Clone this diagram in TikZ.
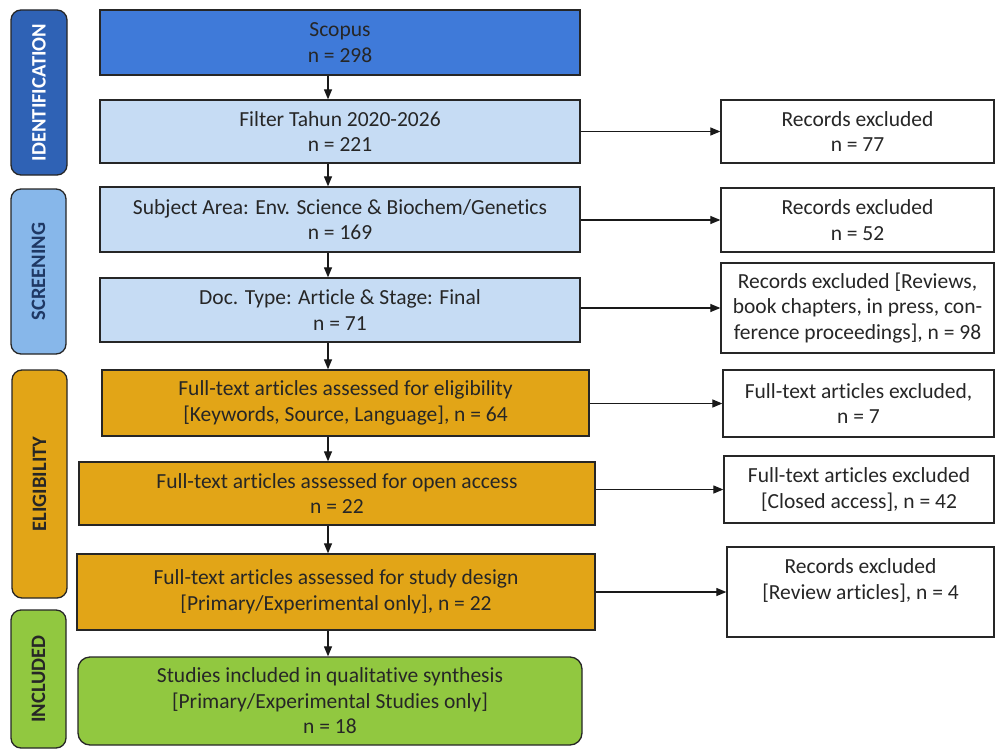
\documentclass[tikz,border=0pt]{standalone}
\usepackage{fontspec}
\setmainfont{Carlito}[Ligatures={NoCommon}]
\usetikzlibrary{arrows.meta}
\definecolor{idblue}{HTML}{2F62B5}
\definecolor{scopusblue}{HTML}{3F7AD9}
\definecolor{lightblue}{HTML}{C6DCF4}
\definecolor{scrblue}{HTML}{87B7EA}
\definecolor{navy}{HTML}{1F3864}
\definecolor{orangebox}{HTML}{E2A517}
\definecolor{greenbox}{HTML}{91C840}
\definecolor{txt}{HTML}{262626}
\tikzset{
  box/.style={draw=black!85, line width=1.3pt, align=center, inner sep=0pt,
    text=txt, font=\fontsize{21.5}{25.5}\selectfont},
  exbox/.style={box, fill=white},
  stage/.style={draw=black!85, line width=1.3pt, rounded corners=10pt, inner sep=0pt,
    font=\bfseries\fontsize{20.5}{22}\selectfont},
  arr/.style={line width=1.2pt, draw=black!90, -{Triangle[length=10pt,width=8pt]}},
}
\newcommand{\bx}[7]{% name, x1, y1, x2, y2, style, text
  \node[#6, minimum width={(#4-#2)*1pt}, minimum height={(#5-#3)*1pt}]
    (#1) at ({(#2+#4)/2},{(#3+#5)/2}) {#7};}
\begin{document}
\begin{tikzpicture}[x=1pt,y=-1pt]
\useasboundingbox[fill=white] (0,0) rectangle (995,749);
% stage labels
\bx{sid}{11}{10}{67}{175}{stage, fill=idblue, text=white}{\rotatebox{90}{IDENTIFICATION}}
\bx{sscr}{11}{189}{66}{354}{stage, fill=scrblue, text=navy}{\rotatebox{90}{SCREENING}}
\bx{selig}{12}{370}{67}{598}{stage, fill=orangebox, text=txt}{\rotatebox{90}{ELIGIBILITY}}
\bx{sinc}{11}{610}{66}{748}{stage, fill=greenbox, text=txt}{\rotatebox{90}{INCLUDED}}
% main boxes
\bx{scopus}{100}{10}{580}{75}{box, fill=scopusblue}{Scopus\\ n = 298}
\bx{filter}{100}{100}{580}{163}{box, fill=lightblue}{Filter Tahun 2020-2026\\ n = 221}
\bx{subj}{100}{187}{580}{252}{box, fill=lightblue}{Subject Area: Env. Science \& Biochem/Genetics\\ n = 169}
\bx{doc}{100}{278}{580}{342}{box, fill=lightblue}{Doc. Type: Article \& Stage: Final\\ n = 71}
\bx{elig}{102}{370}{589}{436}{box, fill=orangebox}{Full-text articles assessed for eligibility\\ {[}Keywords, Source, Language], n = 64}
\bx{oa}{79}{462}{595}{525}{box, fill=orangebox}{Full-text articles assessed for open access\\ n = 22}
\bx{sd}{77}{554}{595}{630}{box, fill=orangebox}{Full-text articles assessed for study design\\ {[}Primary/Experimental only], n = 22}
\bx{inc}{78}{657}{582}{745}{box, fill=greenbox, rounded corners=12pt}{Studies included in qualitative synthesis\\ {[}Primary/Experimental Studies only]\\ n = 18}
% exclusion boxes
\bx{ex1}{721}{100}{994}{163}{exbox}{Records excluded\\ n = 77}
\bx{ex2}{721}{188}{994}{252}{exbox}{Records excluded\\ n = 52}
\bx{ex3}{721}{263}{994}{353}{exbox}{Records excluded [Reviews,\\ book chapters, in press, con-\\ ference proceedings], n = 98}
\bx{ex4}{723}{370}{994}{437}{exbox}{Full-text articles excluded,\\ n = 7}
\bx{ex5}{724}{456}{994}{523}{exbox}{Full-text articles excluded\\ {[}Closed access], n = 42}
\bx{ex6}{727}{547}{994}{637}{exbox}{Records excluded\\ {[}Review articles], n = 4\\ \mbox{}}
% vertical arrows
\coordinate (ax) at (328,0);
\draw[arr] (scopus.south -| ax) -- (filter.north -| ax);
\draw[arr] (filter.south -| ax) -- (subj.north -| ax);
\draw[arr] (subj.south -| ax) -- (doc.north -| ax);
\draw[arr] (doc.south -| ax) -- (elig.north -| ax);
\draw[arr] (elig.south -| ax) -- (oa.north -| ax);
\draw[arr] (oa.south -| ax) -- (sd.north -| ax);
\draw[arr] (sd.south -| ax) -- (inc.north -| ax);
% horizontal arrows
\draw[arr] (ex1.west -| filter.east) -- (ex1.west);
\draw[arr] (ex2.west -| subj.east) -- (ex2.west);
\draw[arr] (ex3.west -| doc.east) -- (ex3.west);
\draw[arr] (ex4.west -| elig.east) -- (ex4.west);
\draw[arr] (ex5.west -| oa.east) -- (ex5.west);
\draw[arr] (ex6.west -| sd.east) -- (ex6.west);
\end{tikzpicture}
\end{document}
